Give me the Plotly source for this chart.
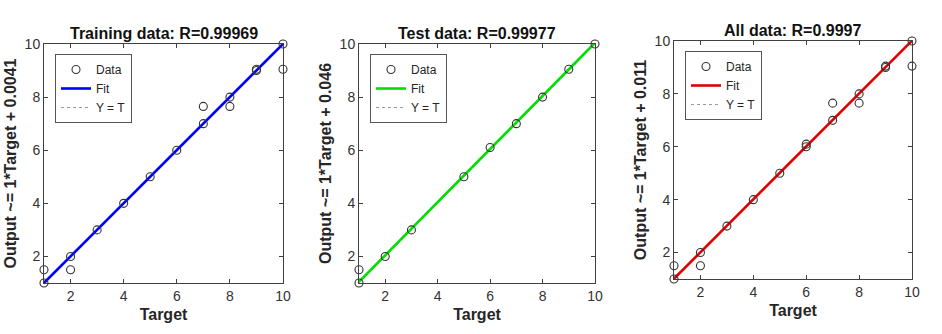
import plotly.graph_objects as go

W, H = 942, 334

# ---- data ----
train_target = [1, 1, 2, 2, 3, 4, 5, 6, 7, 7, 8, 8, 9, 9, 10, 10]
train_output = [1, 1.5, 2, 1.5, 3, 4, 5, 6, 7, 7.65, 8, 7.65, 9, 9.05, 10, 9.05]
test_target = [1, 1, 2, 3, 5, 6, 7, 8, 9, 10]
test_output = [1, 1.5, 2, 3, 5, 6.1, 7, 8, 9.05, 10]
all_target = [1, 1, 2, 2, 3, 4, 5, 6, 6, 7, 7, 8, 8, 9, 9, 10, 10]
all_output = [1, 1.5, 2, 1.5, 3, 4, 5, 6, 6.1, 7, 7.65, 8, 7.65, 9, 9.05, 10, 9.05]

titles = ["Training data: R=0.99969", "Test data: R=0.99977", "All data: R=0.9997"]
slopes = [1, 1, 1]
intercepts = [0.0041, 0.046, 0.011]
intercept_labels = ["0.0041", "0.046", "0.011"]
fit_colors = ["#0000FF", "#00E000", "#E00000"]
tick_vals = [2, 4, 6, 8, 10]

datasets = [(train_target, train_output), (test_target, test_output), (all_target, all_output)]

# ---- layout geometry (window pixels) ----
boxes = [  # x0, x1, ytop, ybottom
    (44, 283, 44, 283),
    (359, 595, 44, 283),
    (674, 912, 41, 279),
]


def px(x):
    return x / W


def py(y):
    return (H - y) / H


FONT = "Arial, Liberation Sans, sans-serif"
AX = "#404040"

fig = go.Figure()
layout = dict(
    width=W, height=H,
    margin=dict(l=0, r=0, t=0, b=0, autoexpand=False),
    paper_bgcolor="white", plot_bgcolor="white",
    font=dict(family=FONT, color="#262626"),
    annotations=[],
)

for i, ((tx, ty), (x0, x1, yt, yb)) in enumerate(zip(datasets, boxes)):
    n = "" if i == 0 else str(i + 1)
    xa, ya = "x" + n, "y" + n
    lg = "legend" + n
    lo, hi = min(tx), max(tx)
    # Y = T
    fig.add_trace(go.Scatter(x=[lo, hi], y=[lo, hi], mode="lines", name="Y = T",
                             line=dict(color="#9a9a9a", width=1, dash="dot"),
                             xaxis=xa, yaxis=ya, legend=lg, legendrank=3))
    # Fit
    fig.add_trace(go.Scatter(x=[lo, hi],
                             y=[slopes[i] * lo + intercepts[i], slopes[i] * hi + intercepts[i]],
                             mode="lines", name="Fit",
                             line=dict(color=fit_colors[i], width=2.6),
                             xaxis=xa, yaxis=ya, legend=lg, legendrank=2))
    # Data
    fig.add_trace(go.Scatter(x=tx, y=ty, mode="markers", name="Data",
                             marker=dict(symbol="circle-open", size=8,
                                         color="#333333", line=dict(width=1.1, color="#333333")),
                             cliponaxis=False,
                             xaxis=xa, yaxis=ya, legend=lg, legendrank=1))

    axis_common = dict(range=[1, 10], tickvals=tick_vals, ticks="inside", ticklen=4,
                       tickcolor=AX, showline=True, linecolor=AX, linewidth=1,
                       mirror="ticks", showgrid=False, zeroline=False, automargin=False,
                       tickfont=dict(size=14, color="#333333", family=FONT))
    layout["xaxis" + n] = dict(axis_common,
                               domain=[px(x0), px(x1)], anchor=ya,
                               title=dict(text="<b>Target</b>", font=dict(size=16, family=FONT, color="#262626"),
                                          standoff=6))
    layout["yaxis" + n] = dict(axis_common,
                               domain=[py(yb), py(yt)], anchor=xa,
                               title=dict(text="<b>Output ~= 1*Target + %s</b>" % intercept_labels[i],
                                          font=dict(size=16, family=FONT, color="#262626"),
                                          standoff=4))
    layout[lg] = dict(x=px(x0 + 11), y=py(yt + 10), xanchor="left", yanchor="top",
                      bgcolor="white", bordercolor="#555555", borderwidth=1,
                      font=dict(size=12, family=FONT, color="#262626"),
                      traceorder="normal", tracegroupgap=0, itemwidth=30)
    layout["annotations"].append(dict(
        text="<b>%s</b>" % titles[i], x=px((x0 + x1) / 2), y=py(yt - 0.5),
        xref="paper", yref="paper", xanchor="center", yanchor="bottom", showarrow=False,
        font=dict(size=16, family=FONT, color="#111111")))

fig.update_layout(**layout)
fig.write_html("out.html", config={"displayModeBar": False},
               post_script="document.body.style.margin='0px';"
                           "document.documentElement.style.overflow='hidden';")
